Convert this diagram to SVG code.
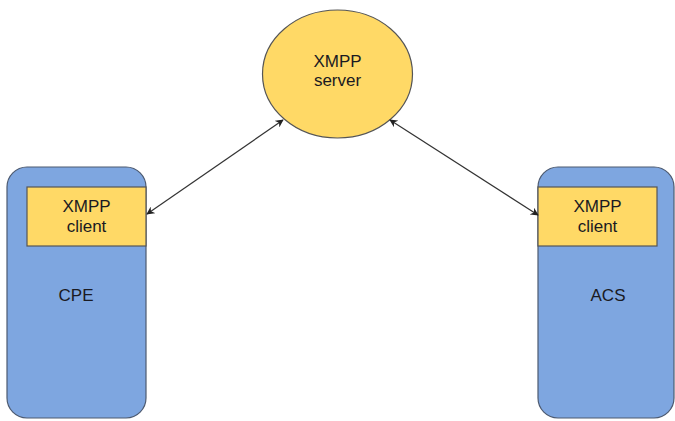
<svg xmlns="http://www.w3.org/2000/svg" width="675" height="421" viewBox="0 0 675 421">
  <style>
    .host { fill: #7ea6e0; stroke: #4d5a70; stroke-width: 1.2; }
    .xmpp { fill: #ffd966; stroke: #555; stroke-width: 1.2; }
    .lbl { font-family: "Liberation Sans", Arial, sans-serif; font-size: 17px; fill: #1a1a22; text-anchor: middle; }
    .link { stroke: #333; stroke-width: 1.2; fill: none; marker-start: url(#arr); marker-end: url(#arr); }
  </style>
  <defs>
    <marker id="arr" viewBox="0 0 10 10" refX="9" refY="5" markerWidth="8" markerHeight="8" markerUnits="userSpaceOnUse" orient="auto-start-reverse">
      <path d="M0,0 L10,5 L0,10 L3,5 Z" fill="#222"/>
    </marker>
  </defs>
  <rect width="675" height="421" fill="#fff"/>

  <g id="server">
    <ellipse class="xmpp" cx="337.5" cy="74" rx="75" ry="64"/>
    <text class="lbl" x="337.5" y="67">XMPP</text>
    <text class="lbl" x="337.5" y="86">server</text>
  </g>

  <g id="cpe">
    <rect class="host" x="7" y="167" width="139" height="251" rx="20"/>
    <rect class="xmpp" x="27" y="187" width="119" height="59"/>
    <text class="lbl" x="86.5" y="211.5">XMPP</text>
    <text class="lbl" x="86.5" y="232">client</text>
    <text class="lbl" x="76" y="300.5">CPE</text>
  </g>

  <g id="acs">
    <rect class="host" x="538" y="167" width="136" height="251" rx="20"/>
    <rect class="xmpp" x="538" y="187" width="119" height="59"/>
    <text class="lbl" x="597.5" y="211.5">XMPP</text>
    <text class="lbl" x="597.5" y="232">client</text>
    <text class="lbl" x="608" y="300.5">ACS</text>
  </g>

  <g id="connectors">
    <line class="link" x1="147" y1="214" x2="283" y2="120"/>
    <line class="link" x1="390" y1="120" x2="538" y2="215"/>
  </g>
</svg>
